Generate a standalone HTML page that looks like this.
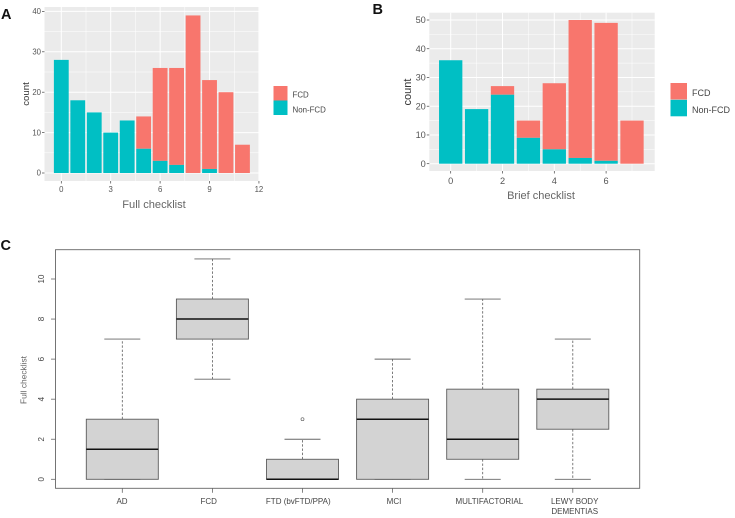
<!DOCTYPE html>
<html lang="en">
<head>
<meta charset="utf-8">
<title>Checklist score charts</title>
<style>
html,body{margin:0;padding:0;background:#fff;width:735px;height:518px;overflow:hidden}
svg{display:block;filter:blur(.35px);font-family:"Liberation Sans",sans-serif}
</style>
</head>
<body>
<svg id="fig" width="735" height="518" viewBox="0 0 735 518">
  <rect width="735" height="518" fill="#fff"/>
  <g id="a"></g>
  <g id="b"></g>
  <g id="c"></g>

  <g font-weight="bold" font-size="14.5" fill="#111">
    <text x="1" y="19">A</text>
    <text x="372.5" y="14">B</text>
    <text x="0.5" y="250">C</text>
  </g>

  <text x="154" y="208" text-anchor="middle" font-size="11.1" fill="#666">Full checklist</text>
  <text transform="translate(29,94) rotate(-90)" text-anchor="middle" font-size="9.6" fill="#333">count</text>
  <rect x="273.5" y="86" width="14" height="14.5" fill="#F8766D"/>
  <rect x="273.5" y="100.5" width="14" height="14.5" fill="#00BFC4"/>
  <text x="292.5" y="97.5" font-size="7.9" fill="#444">FCD</text>
  <text x="292.5" y="112.5" font-size="7.9" fill="#444">Non-FCD</text>

  <text x="541" y="199" text-anchor="middle" font-size="11" fill="#666">Brief checklist</text>
  <text transform="translate(411,92) rotate(-90)" text-anchor="middle" font-size="11" fill="#333">count</text>
  <rect x="670.5" y="83" width="16.5" height="16.5" fill="#F8766D"/>
  <rect x="670.5" y="99.8" width="16.5" height="16.5" fill="#00BFC4"/>
  <text x="692" y="96" font-size="9" fill="#444">FCD</text>
  <text x="692" y="113" font-size="9" fill="#444">Non-FCD</text>

  <text transform="translate(26.5,380) rotate(-90)" text-anchor="middle" font-size="8.4" fill="#666">Full checklist</text>
  <g font-size="8" fill="#444" text-anchor="middle">
    <text x="122" y="504">AD</text>
    <text x="208.7" y="504">FCD</text>
    <text x="298.3" y="504">FTD (bvFTD/PPA)</text>
    <text x="394" y="504">MCI</text>
    <text x="489.3" y="504">MULTIFACTORIAL</text>
    <text x="574.7" y="504">LEWY BODY</text>
    <text x="574.7" y="514">DEMENTIAS</text>
  </g>
</svg>
<script>
// Panel A data
const fullScores = [0,1,2,3,4,5,6,7,8,9,10,11];
const fullNonFcd = [28,18,15,10,13,6,3,2,0,1,0,0];
const fullFcd = [0,0,0,0,0,8,23,24,39,22,20,7];
const fullXTicks = [0,3,6,9,12];
const fullYTicks = [0,10,20,30,40];

// Panel B data
const briefScores = [0,1,2,3,4,5,6,7];
const briefNonFcd = [36,19,24,9,5,2,1,0];
const briefFcd = [0,0,3,6,23,48,48,15];
const briefXTicks = [0,2,4,6];
const briefYTicks = [0,10,20,30,40,50];

// Panel C data
const groups = ["AD","FCD","FTD (bvFTD/PPA)","MCI","MULTIFACTORIAL","LEWY BODY DEMENTIAS"];
const whiskerLow = [0,5,0,0,0,0];
const quartile1 = [0,7,0,0,1,2.5];
const medians = [1.5,8,0,3,2,4];
const quartile3 = [3,9,1,4,4.5,4.5];
const whiskerHigh = [7,11,2,6,9,7];
const outlierGroups = [2];
const outlierValues = [3];
const boxYTicks = [0,2,4,6,8,10];

const NS = "http://www.w3.org/2000/svg";
function make(parent, tag, props, text){
  const el = document.createElementNS(NS, tag);
  for (const k in props) el.setAttribute(k, props[k]);
  if (text !== undefined) el.textContent = text;
  parent.appendChild(el);
  return el;
}

function histogram(root, o){
  const x = v => o.x0 + v * o.xUnit;
  const y = v => o.y0 - v * o.yUnit;

  const panel = make(root, "rect", {x:o.left, y:o.top, width:o.right-o.left, height:o.bottom-o.top, fill:"#EBEBEB"});
  
  

  const xStep = o.xTicks[1] - o.xTicks[0];
  const yStep = o.yTicks[1] - o.yTicks[0];
  for (let v = 0; x(v) <= o.right + 0.5; v += xStep / 2) {
    const major = (v / xStep) % 1 === 0;
    const g = make(root, "line", {x1:x(v), x2:x(v), y1:o.top, y2:o.bottom, stroke:"#fff", "stroke-width":major ? 1 : 0.5});
    
    
  }
  for (let v = 0; y(v) >= o.top - 0.5; v += yStep / 2) {
    const major = (v / yStep) % 1 === 0;
    const g = make(root, "line", {x1:o.left, x2:o.right, y1:y(v), y2:y(v), stroke:"#fff", "stroke-width":major ? 1 : 0.5});
    
    
  }

  o.scores.forEach((s, i) => {
    const bw = 0.9 * o.xUnit;
    const low = o.nonFcd[i];
    const high = o.fcd[i];
    if (high > 0) {
      const r = make(root, "rect", {x:x(s)-bw/2, y:y(low+high), width:bw, height:high*o.yUnit, fill:"#F8766D"});
      
      
    }
    if (low > 0) {
      const r = make(root, "rect", {x:x(s)-bw/2, y:y(low), width:bw, height:low*o.yUnit, fill:"#00BFC4"});
      
      
    }
  });

  o.xTicks.forEach(v => {
    const t = make(root, "line", {x1:x(v), x2:x(v), y1:o.bottom, y2:o.bottom+2.5, stroke:"#444", "stroke-width":0.7});
    
    
    const l = make(root, "text", {x:x(v), y:o.bottom+o.xLabelGap, "text-anchor":"middle", "font-size":o.tickSize, fill:"#555"}, v);
    
    
  });
  o.yTicks.forEach(v => {
    const t = make(root, "line", {x1:o.left-2.5, x2:o.left, y1:y(v), y2:y(v), stroke:"#444", "stroke-width":0.7});
    
    
    const l = make(root, "text", {x:o.left-3.5, y:y(v)+o.tickSize*0.35, "text-anchor":"end", "font-size":o.tickSize, fill:"#555"}, v);
    
    
  });
}

histogram(document.getElementById("a"), {
  left:44.5, right:259.3, top:7, bottom:181,
  x0:61.3, xUnit:16.47, y0:173, yUnit:4.04,
  scores:fullScores, nonFcd:fullNonFcd, fcd:fullFcd,
  xTicks:fullXTicks, yTicks:fullYTicks, tickSize:7.8, xLabelGap:11
});
histogram(document.getElementById("b"), {
  left:429.3, right:654.7, top:12.7, bottom:171,
  x0:450.7, xUnit:25.9, y0:163.7, yUnit:2.874,
  scores:briefScores, nonFcd:briefNonFcd, fcd:briefFcd,
  xTicks:briefXTicks, yTicks:briefYTicks, tickSize:9.2, xLabelGap:13
});

(function(){
  const root = document.getElementById("c");
  const x = i => 122.3 + i * 90.1;
  const y = v => 479.3 - v * 20.03;
  const edge = "#5c5c5c";
  const L = 55.5, R = 639.7, T = 249.7, B = 488.3;

  const frame = make(root, "rect", {x:L, y:T, width:R-L, height:B-T, fill:"#fff", stroke:"#666", "stroke-width":0.9});
  
  

  groups.forEach((name, i) => {
    const cx = x(i);
    const boxHalf = 36, capHalf = 18;

    const up = make(root, "line", {x1:cx, x2:cx, y1:y(quartile3[i]), y2:y(whiskerHigh[i]), stroke:edge, "stroke-width":0.8, "stroke-dasharray":"2.4 1.8"});
    
    
    const down = make(root, "line", {x1:cx, x2:cx, y1:y(quartile1[i]), y2:y(whiskerLow[i]), stroke:edge, "stroke-width":0.8, "stroke-dasharray":"2.4 1.8"});
    
    

    const capHigh = make(root, "line", {x1:cx-capHalf, x2:cx+capHalf, y1:y(whiskerHigh[i]), y2:y(whiskerHigh[i]), stroke:"#666", "stroke-width":0.9});
    
    
    const capLow = make(root, "line", {x1:cx-capHalf, x2:cx+capHalf, y1:y(whiskerLow[i]), y2:y(whiskerLow[i]), stroke:"#666", "stroke-width":0.9});
    
    

    const box = make(root, "rect", {x:cx-boxHalf, y:y(quartile3[i]), width:boxHalf*2, height:(quartile3[i]-quartile1[i])*20.03, fill:"#D3D3D3", stroke:edge, "stroke-width":0.9});
    
    

    const med = make(root, "line", {x1:cx-boxHalf, x2:cx+boxHalf, y1:y(medians[i]), y2:y(medians[i]), stroke:"#111", "stroke-width":1.5});
    
    

    const tick = make(root, "line", {x1:cx, x2:cx, y1:B, y2:B+4.5, stroke:"#666", "stroke-width":0.8});
    
    
  });

  outlierGroups.forEach((g, k) => {
    const c = make(root, "circle", {cx:x(g), cy:y(outlierValues[k]), r:1.5, fill:"none", stroke:"#666", "stroke-width":0.7});
    
    
  });

  boxYTicks.forEach(v => {
    const t = make(root, "line", {x1:L-4.5, x2:L, y1:y(v), y2:y(v), stroke:"#666", "stroke-width":0.8});
    
    
    const l = make(root, "text", {transform:"translate(44,"+y(v)+") rotate(-90)", "text-anchor":"middle", "font-size":8, fill:"#444"}, v);
    
    
  });
})();
</script>
</body>
</html>
